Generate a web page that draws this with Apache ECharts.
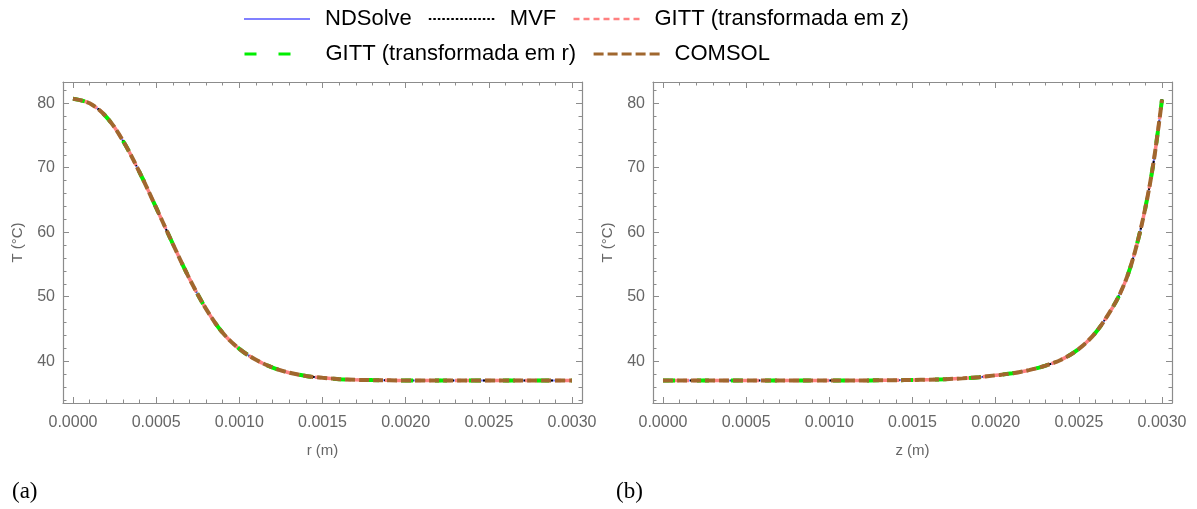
<!DOCTYPE html>
<html>
<head>
<meta charset="utf-8">
<script src="https://cdn.jsdelivr.net/npm/echarts@6/dist/echarts.min.js"></script>
<style>
  html, body { margin: 0; padding: 0; background: #fff; }
  #chart { width: 1197px; height: 509px; }
</style>
</head>
<body>
<div id="chart"></div>
<script>
// Radial temperature profile T(r) and axial profile T(z), step 0.1 mm
const rPos = [0, 0.0001, 0.0002, 0.0003, 0.0004, 0.0005, 0.0006, 0.0007, 0.0008, 0.0009,
  0.0010, 0.0011, 0.0012, 0.0013, 0.0014, 0.0015, 0.0016, 0.0017, 0.0018, 0.0019,
  0.0020, 0.0021, 0.0022, 0.0023, 0.0024, 0.0025, 0.0026, 0.0027, 0.0028, 0.0029, 0.0030];
const tempR = [80.7, 80.0, 77.9, 74.2, 69.3, 63.8, 58.2, 52.8, 48.1, 44.4,
  41.9, 40.2, 39.0, 38.2, 37.7, 37.4, 37.2, 37.1, 37.05, 37.02,
  37.0, 37.0, 37.0, 37.0, 37.0, 37.0, 37.0, 37.0, 37.0, 37.0, 37.0];

const zPos = [0, 0.0001, 0.0002, 0.0003, 0.0004, 0.0005, 0.0006, 0.0007, 0.0008, 0.0009,
  0.0010, 0.0011, 0.0012, 0.0013, 0.0014, 0.0015, 0.0016, 0.0017, 0.0018, 0.0019,
  0.0020, 0.0021, 0.0022, 0.0023, 0.0024, 0.0025, 0.0026, 0.0027, 0.00275, 0.0028,
  0.00285, 0.0029, 0.00295, 0.0030];
const tempZ = [37.0, 37.0, 37.0, 37.0, 37.0, 37.0, 37.0, 37.0, 37.0, 37.0,
  37.0, 37.0, 37.0, 37.02, 37.04, 37.07, 37.12, 37.2, 37.32, 37.5,
  37.8, 38.1, 38.6, 39.3, 40.3, 41.9, 44.4, 48.2, 50.6, 53.8,
  58.2, 63.8, 71.0, 80.6];

// Tick positions
const xMajor = [0, 0.0005, 0.0010, 0.0015, 0.0020, 0.0025, 0.0030];
const xMinor = [0.0001, 0.0002, 0.0003, 0.0004, 0.0006, 0.0007, 0.0008, 0.0009,
  0.0011, 0.0012, 0.0013, 0.0014, 0.0016, 0.0017, 0.0018, 0.0019,
  0.0021, 0.0022, 0.0023, 0.0024, 0.0026, 0.0027, 0.0028, 0.0029];
const yMajor = [40, 50, 60, 70, 80];
const yMinor = [34, 36, 38, 42, 44, 46, 48, 52, 54, 56, 58, 62, 64, 66, 68, 72, 74, 76, 78, 82];

const methods = ['NDSolve', 'MVF', 'GITT (transformada em z)', 'GITT (transformada em r)', 'COMSOL'];
const lineStyles = [
  { color: '#8080ff', width: 2, type: 'solid' },
  { color: '#000000', width: 2, type: [2.5, 2] },
  { color: '#ff8080', width: 3.5, type: [6, 4] },
  { color: '#00ee00', width: 4, type: [12, 22] },
  { color: '#a0672e', width: 4, type: [10, 4] }
];
// Thinner strokes for the legend samples
const legendWidths = [2, 2, 2.5, 3, 3];

const FRAME = '#8c8c8c';
const LABEL = '#666666';
const FONT = 'Liberation Sans';
const X_MIN = -0.00006, X_MAX = 0.00306;
const Y_MIN = 33.5, Y_MAX = 83.3;

const frameLine = { show: true, onZero: false, lineStyle: { color: FRAME, width: 1.2 } };
const noLine = { show: false, onZero: false };

function xAxes(gridIndex, name) {
  const base = { type: 'value', gridIndex, min: X_MIN, max: X_MAX, offset: 0, splitLine: { show: false } };
  return [
    Object.assign({}, base, {
      position: 'bottom', name, nameLocation: 'middle', nameGap: 40,
      nameTextStyle: { color: LABEL, fontSize: 15, fontFamily: FONT },
      axisLine: frameLine,
      axisTick: { show: true, inside: true, length: 6, customValues: xMajor, lineStyle: { color: FRAME } },
      axisLabel: { show: true, customValues: xMajor, margin: 12, color: LABEL, fontSize: 16,
        fontFamily: FONT, formatter: v => v.toFixed(4) }
    }),
    Object.assign({}, base, {
      position: 'bottom', axisLine: noLine,
      axisTick: { show: true, inside: true, length: 3.5, customValues: xMinor, lineStyle: { color: FRAME } },
      axisLabel: { show: false }
    }),
    Object.assign({}, base, {
      position: 'top', axisLine: frameLine,
      axisTick: { show: true, inside: true, length: 6, customValues: xMajor, lineStyle: { color: FRAME } },
      axisLabel: { show: false }
    }),
    Object.assign({}, base, {
      position: 'top', axisLine: noLine,
      axisTick: { show: true, inside: true, length: 3.5, customValues: xMinor, lineStyle: { color: FRAME } },
      axisLabel: { show: false }
    })
  ];
}

function yAxes(gridIndex) {
  const base = { type: 'value', gridIndex, min: Y_MIN, max: Y_MAX, offset: 0, splitLine: { show: false } };
  return [
    Object.assign({}, base, {
      position: 'left', name: 'T (°C)', nameLocation: 'middle', nameGap: 38, nameRotate: 90,
      nameTextStyle: { color: LABEL, fontSize: 15, fontFamily: FONT },
      axisLine: frameLine,
      axisTick: { show: true, inside: true, length: 6, customValues: yMajor, lineStyle: { color: FRAME } },
      axisLabel: { show: true, customValues: yMajor, margin: 8, color: LABEL, fontSize: 16,
        fontFamily: FONT }
    }),
    Object.assign({}, base, {
      position: 'left', axisLine: noLine,
      axisTick: { show: true, inside: true, length: 3.5, customValues: yMinor, lineStyle: { color: FRAME } },
      axisLabel: { show: false }
    }),
    Object.assign({}, base, {
      position: 'right', axisLine: frameLine,
      axisTick: { show: true, inside: true, length: 6, customValues: yMajor, lineStyle: { color: FRAME } },
      axisLabel: { show: false }
    }),
    Object.assign({}, base, {
      position: 'right', axisLine: noLine,
      axisTick: { show: true, inside: true, length: 3.5, customValues: yMinor, lineStyle: { color: FRAME } },
      axisLabel: { show: false }
    })
  ];
}

const series = [];
[[rPos, tempR, 0], [zPos, tempZ, 1]].forEach(([xs, ys, g]) => {
  const data = xs.map((x, i) => [x, ys[i]]);
  methods.forEach((m, k) => {
    series.push({
      name: m, type: 'line', xAxisIndex: g * 4, yAxisIndex: g * 4,
      data, smooth: 0.35, symbol: 'none', showSymbol: false,
      lineStyle: lineStyles[k], itemStyle: { color: lineStyles[k].color },
      emphasis: { disabled: true }, animation: false, z: 2 + k
    });
  });
});

const legendBase = {
  orient: 'horizontal', left: 243, padding: 0, itemWidth: 66, itemHeight: 14, itemGap: 16,
  selectedMode: false,
  itemStyle: { opacity: 0 },
  textStyle: { color: '#000', fontSize: 22, fontFamily: FONT, padding: [0, 0, 0, 10] }
};
const legendItems = methods.map((m, k) => ({ name: m, lineStyle: { width: legendWidths[k] } }));

const option = {
  backgroundColor: '#fff',
  animation: false,
  legend: [
    Object.assign({}, legendBase, { top: 8, data: legendItems.slice(0, 3) }),
    Object.assign({}, legendBase, { top: 43, data: legendItems.slice(3) })
  ],
  grid: [
    { left: 63, right: 615, top: 82, bottom: 106 },
    { left: 653, right: 25, top: 82, bottom: 106 }
  ],
  xAxis: [...xAxes(0, 'r (m)'), ...xAxes(1, 'z (m)')],
  yAxis: [...yAxes(0), ...yAxes(1)],
  series,
  graphic: [
    { type: 'text', left: 12, top: 480, style: { text: '(a)', fill: '#000', fontSize: 23, fontFamily: 'Liberation Serif' } },
    { type: 'text', left: 616, top: 480, style: { text: '(b)', fill: '#000', fontSize: 23, fontFamily: 'Liberation Serif' } }
  ]
};

const chart = echarts.init(document.getElementById('chart'));
chart.setOption(option);
</script>
</body>
</html>
